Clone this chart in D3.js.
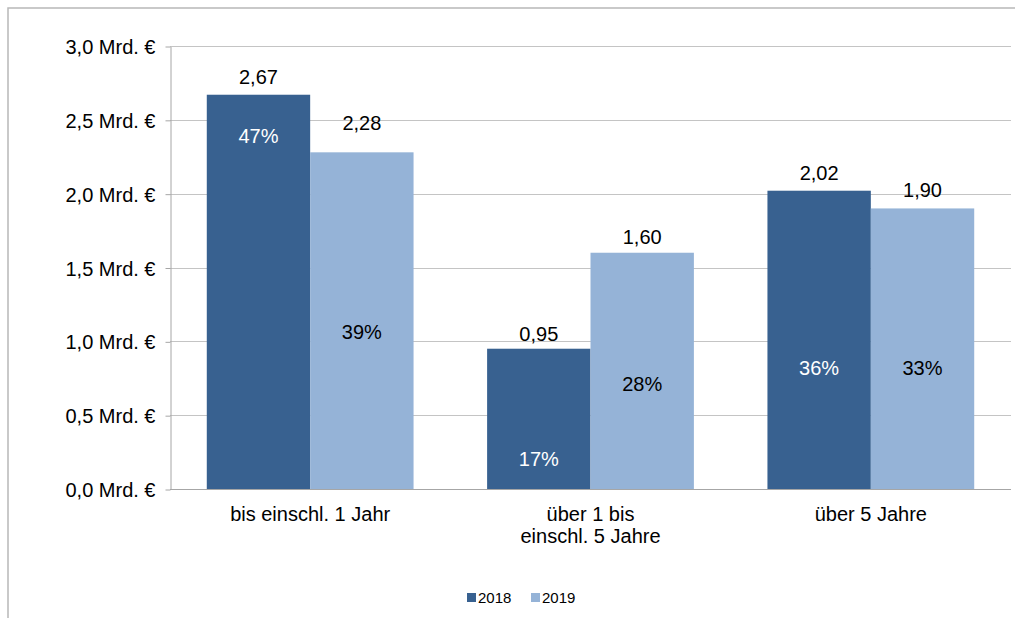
<!DOCTYPE html>
<html>
<head>
<meta charset="utf-8">
<script src="https://cdn.jsdelivr.net/npm/d3@7"></script>
<style>
  html, body { margin: 0; padding: 0; background: #fff; }
  svg { display: block; font-family: "Liberation Sans", Arial, sans-serif; }
</style>
</head>
<body>
<svg id="chart" width="1015" height="618"></svg>
<script>
// Laufzeitbänder und Volumen je Jahr (Mrd. €)
const categories = [["bis einschl. 1 Jahr"], ["über 1 bis", "einschl. 5 Jahre"], ["über 5 Jahre"]];
const seriesNames = ["2018", "2019"];
const values2018 = [2.67, 0.95, 2.02];
const values2019 = [2.28, 1.60, 1.90];
const share2018 = ["47%", "17%", "36%"];
const share2019 = ["39%", "28%", "33%"];
const yTicks = [0, 0.5, 1.0, 1.5, 2.0, 2.5, 3.0];

const colors = { "2018": "#386190", "2019": "#95b3d7" };
const shareTextColor = { "2018": "#ffffff", "2019": "#000000" };

// Höhe der Prozentbeschriftung innerhalb der Balken (in Achseneinheiten)
const shareLabelAt = { "2018": [2.39, 0.20, 0.82], "2019": [1.06, 0.71, 0.82] };
// Abstand der Wertbeschriftung über dem Balken (px)
const valueLift = { "2018": [11, 8, 11], "2019": [22, 9, 11] };

const svg = d3.select("#chart");
const plot = { left: 170, right: 1011, top: 46, bottom: 489 };
const fontSize = "20px";

// Rahmen des Diagrammbereichs
svg.append("rect")
  .attr("x", 8).attr("y", 8)
  .attr("width", 1030).attr("height", 640)
  .attr("fill", "none").attr("stroke", "#b8b8b8").attr("stroke-width", 1.5);

const y = d3.scaleLinear().domain([0, 3]).range([plot.bottom, plot.top]);
const x0 = d3.scaleBand().domain(d3.range(categories.length))
  .range([plot.left, plot.right]).paddingInner(0.2624).paddingOuter(0.1312);
const x1 = d3.scaleBand().domain(seriesNames).range([0, x0.bandwidth()]);

// Gitternetzlinien
svg.append("g").selectAll("line").data(yTicks).join("line")
  .attr("x1", plot.left).attr("x2", plot.right)
  .attr("y1", d => Math.round(y(d)) + 0.5).attr("y2", d => Math.round(y(d)) + 0.5)
  .attr("stroke", "#c4c4c4").attr("stroke-width", 1);

// Y-Achse
const fmtTick = d => d3.format(".1f")(d).replace(".", ",") + " Mrd. €";
const yAxis = svg.append("g")
  .attr("transform", `translate(${plot.left + 0.5},0.5)`)
  .call(d3.axisLeft(y).tickValues(yTicks).tickFormat(fmtTick).tickSize(5).tickSizeOuter(0));
yAxis.select(".domain").attr("stroke", "#a6a6a6");
yAxis.selectAll(".tick line").attr("stroke", "#a6a6a6");
yAxis.selectAll(".tick text")
  .attr("x", -15).attr("dy", "0.35em")
  .attr("fill", "#000").style("font-size", fontSize)
  .style("font-family", "Liberation Sans, Arial, sans-serif");

// Balken
const rows = [];
categories.forEach((c, i) => {
  rows.push({ i, s: "2018", v: values2018[i], p: share2018[i] });
  rows.push({ i, s: "2019", v: values2019[i], p: share2019[i] });
});

const bars = svg.append("g");
bars.selectAll("rect").data(rows).join("rect")
  .attr("x", d => x0(d.i) + x1(d.s))
  .attr("y", d => y(d.v))
  .attr("width", x1.bandwidth())
  .attr("height", d => y(0) - y(d.v))
  .attr("fill", d => colors[d.s]);

// X-Achse
svg.append("line")
  .attr("x1", plot.left).attr("x2", plot.right)
  .attr("y1", plot.bottom + 0.5).attr("y2", plot.bottom + 0.5)
  .attr("stroke", "#a6a6a6");

const fmtVal = d => d3.format(".2f")(d).replace(".", ",");

// Wertbeschriftungen
svg.append("g").selectAll("text").data(rows).join("text")
  .attr("x", d => x0(d.i) + x1(d.s) + x1.bandwidth() / 2)
  .attr("y", d => y(d.v) - valueLift[d.s][d.i])
  .attr("text-anchor", "middle")
  .style("font-size", fontSize).attr("fill", "#000")
  .text(d => fmtVal(d.v));

// Anteile
svg.append("g").selectAll("text").data(rows).join("text")
  .attr("x", d => x0(d.i) + x1(d.s) + x1.bandwidth() / 2)
  .attr("y", d => y(shareLabelAt[d.s][d.i]))
  .attr("dy", "0.35em")
  .attr("text-anchor", "middle")
  .style("font-size", fontSize).attr("fill", d => shareTextColor[d.s])
  .text(d => d.p);

// Kategorienbeschriftung
const catG = svg.append("g");
categories.forEach((lines, i) => {
  const t = catG.append("text")
    .attr("x", x0(i) + x0.bandwidth() / 2)
    .attr("y", 521)
    .attr("text-anchor", "middle")
    .style("font-size", fontSize).attr("fill", "#000");
  lines.forEach((ln, k) => {
    t.append("tspan").attr("x", x0(i) + x0.bandwidth() / 2)
      .attr("dy", k === 0 ? 0 : 22).text(ln);
  });
});

// Legende
const legend = svg.append("g").attr("transform", "translate(467,593)");
const legendPos = [0, 64];
seriesNames.forEach((s, k) => {
  const g = legend.append("g").attr("transform", `translate(${legendPos[k]},0)`);
  g.append("rect").attr("width", 9).attr("height", 9).attr("fill", colors[s]);
  g.append("text").attr("x", 11).attr("y", 10)
    .style("font-size", "15px").attr("fill", "#000").text(s);
});
</script>
</body>
</html>
